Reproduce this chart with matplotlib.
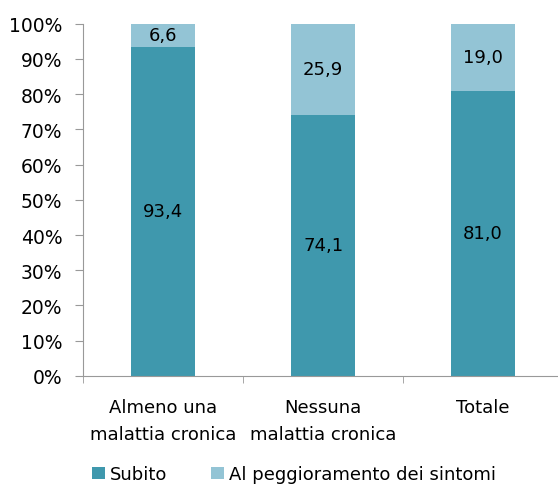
import numpy as np
import matplotlib.pyplot as plt

categories = ['Almeno una\nmalattia cronica', 'Nessuna\nmalattia cronica', 'Totale']
subito = [93.4, 74.1, 81.0]
peggioramento = [6.6, 25.9, 19.0]
series_names = ['Subito', 'Al peggioramento dei sintomi']
colors = ['#3f98ad', '#93c4d5']

fig = plt.figure(figsize=(5.58, 4.85), dpi=100)
ax = fig.add_axes([0.149, 0.223, 0.86, 0.726])

x = np.arange(len(categories))
ax.bar(x, subito, width=0.4, color=colors[0], label=series_names[0])
ax.bar(x, peggioramento, width=0.4, bottom=subito, color=colors[1], label=series_names[1])

def fmt(v):
    return f'{v:.1f}'.replace('.', ',')

for i in range(len(categories)):
    ax.text(x[i], subito[i] / 2, fmt(subito[i]), ha='center', va='center', fontsize=13)
    ax.text(x[i], subito[i] + peggioramento[i] / 2, fmt(peggioramento[i]),
            ha='center', va='center', fontsize=13)

ax.set_xlim(-0.5, 2.5)
ax.set_ylim(0, 100)
ax.set_yticks(range(0, 101, 10))
ax.set_yticklabels([f'{v}%' for v in range(0, 101, 10)], fontsize=13.5)
ax.set_xticks(x)
ax.set_xticklabels(categories, fontsize=13, linespacing=1.65)
ax.set_xticks(np.arange(-0.5, 3, 1), minor=True)
ax.tick_params(axis='x', which='major', length=0, pad=16)
ax.tick_params(axis='x', which='minor', length=5, color='#999999')
ax.tick_params(axis='y', length=6, color='#999999', pad=9)
for s in ['top', 'right']:
    ax.spines[s].set_visible(False)
for s in ['left', 'bottom']:
    ax.spines[s].set_color('#999999')

fig.legend(loc='center', bbox_to_anchor=(0.527, 0.02), ncol=2, frameon=False,
           fontsize=13, handlelength=0.7, handleheight=0.7, handletextpad=0.3,
           columnspacing=2.4)

fig.savefig('out.png', dpi=100)
